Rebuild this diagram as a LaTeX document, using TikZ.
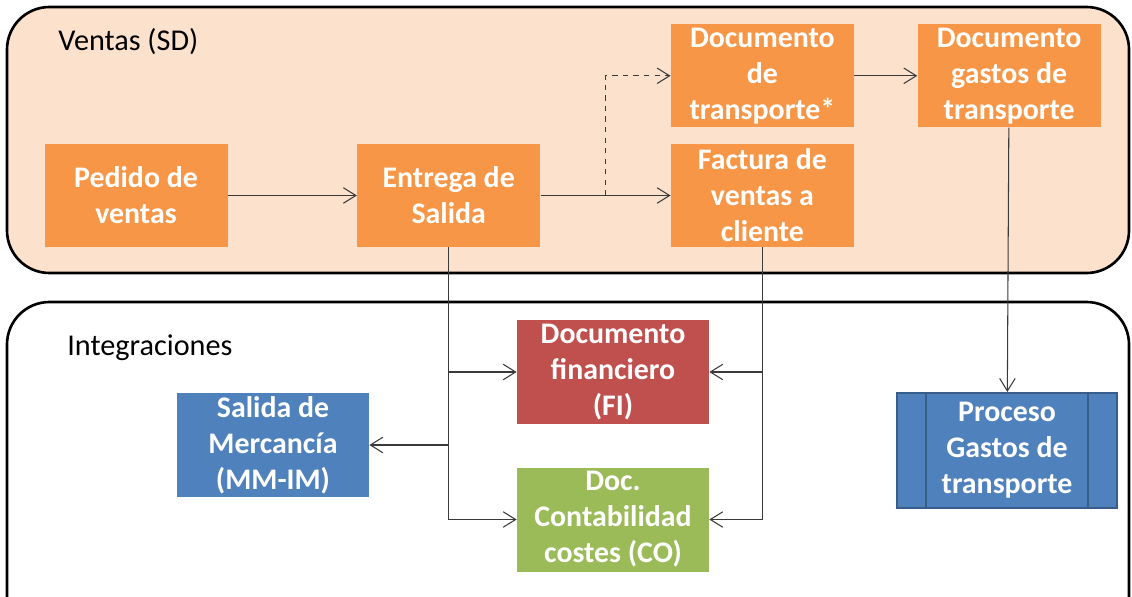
\documentclass[tikz,border=0pt]{standalone}
\usepackage{fontspec}
\setmainfont{Carlito}
\usepackage{xcolor}
\usepackage{tikz}
\usetikzlibrary{positioning, arrows.meta}

\definecolor{sdorange}{HTML}{F79646}
\definecolor{sdpeach}{HTML}{FCE1CC}
\definecolor{firojo}{HTML}{C0504D}
\definecolor{mmazul}{HTML}{4F81BD}
\definecolor{mmborde}{HTML}{385D8A}
\definecolor{coverde}{HTML}{9BBB59}
\definecolor{flecha}{HTML}{3A3A3A}

\begin{document}
\begin{tikzpicture}[
    doc/.style={rectangle,
        fill=sdorange,
        text=white,
        align=center,
        inner sep=0pt,
        minimum width=3.66cm,
        minimum height=2.06cm,
        font=\bfseries\fontsize{17}{20.5}\selectfont},
    intg/.style={doc,
        minimum width=3.84cm,
        minimum height=2.08cm},
    proc/.style={doc,
        fill=mmazul,
        draw=mmborde,
        line width=1.2pt,
        minimum width=4.4cm,
        minimum height=2.3cm,
        path picture={
            \draw[mmborde, line width=1.2pt]
                ([xshift=5.8mm]path picture bounding box.north west) -- ([xshift=5.8mm]path picture bounding box.south west)
                ([xshift=-5.8mm]path picture bounding box.north east) -- ([xshift=-5.8mm]path picture bounding box.south east);}},
    area/.style={draw=black,
        line width=1.5pt,
        rounded corners=0.85cm},
    titulo/.style={anchor=west,
        inner sep=0pt,
        font=\fontsize{17.2}{20}\selectfont},
    flow/.style={-{Straight Barb[length=2.5mm,width=3.1mm]},
        draw=flecha,
        line width=0.6pt}]
    \useasboundingbox (0,0) rectangle (22.64,-11.92);
    \clip (0,0) rectangle (22.64,-11.92);

    % areas
    \draw[area, fill=sdpeach] (0.14,-0.14) rectangle (22.58,-5.46);
    \draw[area, fill=white] (0.14,-6.04) rectangle (22.58,-12.8);
    \node[titulo] (ventas) at (1.16,-0.84) {Ventas (SD)};
    \node[titulo] (integ) at (1.34,-6.96) {Integraciones};

    % ventas
    \node[doc] (pedido) at (2.72,-3.91) {Pedido de\\ventas};
    \node[doc, right=2.58cm of pedido] (entrega) {Entrega de\\Salida};
    \node[doc, right=2.6cm of entrega] (factura) {Factura de\\ventas a\\cliente};
    \node[doc, above=0.32cm of factura] (doctr) {Documento\\de\\transporte*};
    \node[doc, right=1.26cm of doctr] (docgas) {Documento\\gastos de\\transporte};

    % integraciones
    \node[intg, fill=firojo] (fi) at (12.26,-7.44) {Documento\\financiero\\(FI)};
    \node[intg, fill=mmazul] (salida) at (5.46,-8.9) {Salida de\\Mercancía\\(MM-IM)};
    \node[intg, fill=coverde] (co) at (12.26,-10.39) {Doc.\\Contabilidad\\costes (CO)};
    \node[proc] (gastos) at (20.14,-9.01) {Proceso\\Gastos de\\transporte};

    \draw[flow] (entrega) -- coordinate[midway] (split) (factura);
    \draw[flow, dashed] (split) |- (doctr.west);
    \foreach \u / \v in {pedido/entrega, doctr/docgas, docgas/gastos}
        \draw[flow] (\u) -- (\v);
    \foreach \u / \v in {entrega/salida, entrega/fi, entrega/co, factura/fi, factura/co}
        \draw[flow] (\u.south) |- (\v);
\end{tikzpicture}
\end{document}
